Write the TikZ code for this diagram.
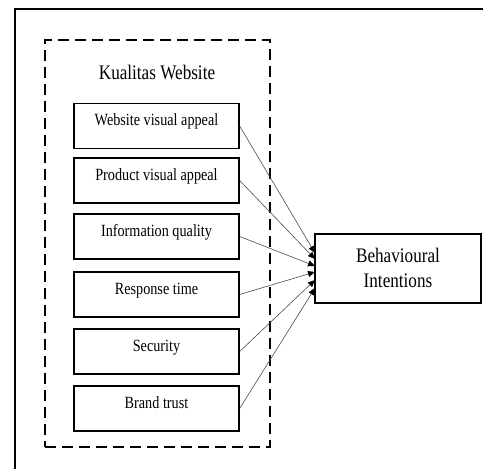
\documentclass[tikz,border=0pt]{standalone}
\usepackage{fontspec}
\usepackage{graphicx}
\setmainfont{Liberation Serif}
\usetikzlibrary{arrows.meta}
\newcommand{\tallt}[1]{\scalebox{0.98}[1.18]{#1}}
\begin{document}
\begin{tikzpicture}[x=1pt,y=1pt,
  factor/.style={draw=black,line width=1.3pt,minimum width=165pt,minimum height=45pt,inner sep=0pt},
  conn/.style={draw=black!70,line width=0.6pt,-{Triangle[length=7pt,width=6pt,color=black]}},
  boxtext/.style={font=\fontsize{14.5}{16}\selectfont,anchor=base,inner sep=0pt}]
\useasboundingbox (0,0) rectangle (483,-469);
% outer frame (partial)
\coordinate (ftl) at (15,-9);
\coordinate (ftr) at (483,-9);
\coordinate (fbl) at (15,-469);
\draw[line width=1.5pt] (ftr) -- (ftl) -- (fbl);
% dashed group
\node[draw=black,line width=1.4pt,dash pattern=on 11pt off 6pt,minimum width=225pt,minimum height=407pt,inner sep=0pt] (grp) at (157.5,-243.5) {};
\node[font=\fontsize{17.5}{20}\selectfont,anchor=base,inner sep=0pt] (title) at (157,-79) {\tallt{Kualitas Website}};
% factor boxes
\node[factor] (b1) at (156.5,-126) {};
\node[factor] (b2) at (156.5,-180.5) {};
\node[factor] (b3) at (156.5,-236.5) {};
\node[factor] (b4) at (156.5,-294.5) {};
\node[factor] (b5) at (156.5,-351.5) {};
\node[factor] (b6) at (156.5,-408.5) {};
\node[boxtext] (l1) at ([yshift=-23pt]b1.north) {\tallt{Website visual appeal}};
\node[boxtext] (l2) at ([yshift=-23pt]b2.north) {\tallt{Product visual appeal}};
\node[boxtext] (l3) at ([yshift=-23pt]b3.north) {\tallt{Information quality}};
\node[boxtext] (l4) at ([yshift=-23pt]b4.north) {\tallt{Response time}};
\node[boxtext] (l5) at ([yshift=-23pt]b5.north) {\tallt{Security}};
\node[boxtext] (l6) at ([yshift=-23pt]b6.north) {\tallt{Brand trust}};
% target
\node[draw=black,line width=1.3pt,minimum width=166pt,minimum height=69pt,inner sep=0pt] (bi) at (398,-268.5) {};
\node[font=\fontsize{17.5}{20}\selectfont,anchor=base,inner sep=0pt] (bi1) at (398,-262) {\tallt{Behavioural}};
\node[font=\fontsize{17.5}{20}\selectfont,anchor=base,inner sep=0pt] (bi2) at (398,-287) {\tallt{Intentions}};
\coordinate (t1) at (315,-253);
\coordinate (t2) at (315,-259);
\coordinate (t3) at (315,-266);
\coordinate (t4) at (315,-272);
\coordinate (t5) at (315,-280);
\coordinate (t6) at (315,-288);
\draw[conn] (b1.east) -- (t1);
\draw[conn] (b2.east) -- (t2);
\draw[conn] (b3.east) -- (t3);
\draw[conn] (b4.east) -- (t4);
\draw[conn] (b5.east) -- (t5);
\draw[conn] (b6.east) -- (t6);
\end{tikzpicture}
\end{document}
